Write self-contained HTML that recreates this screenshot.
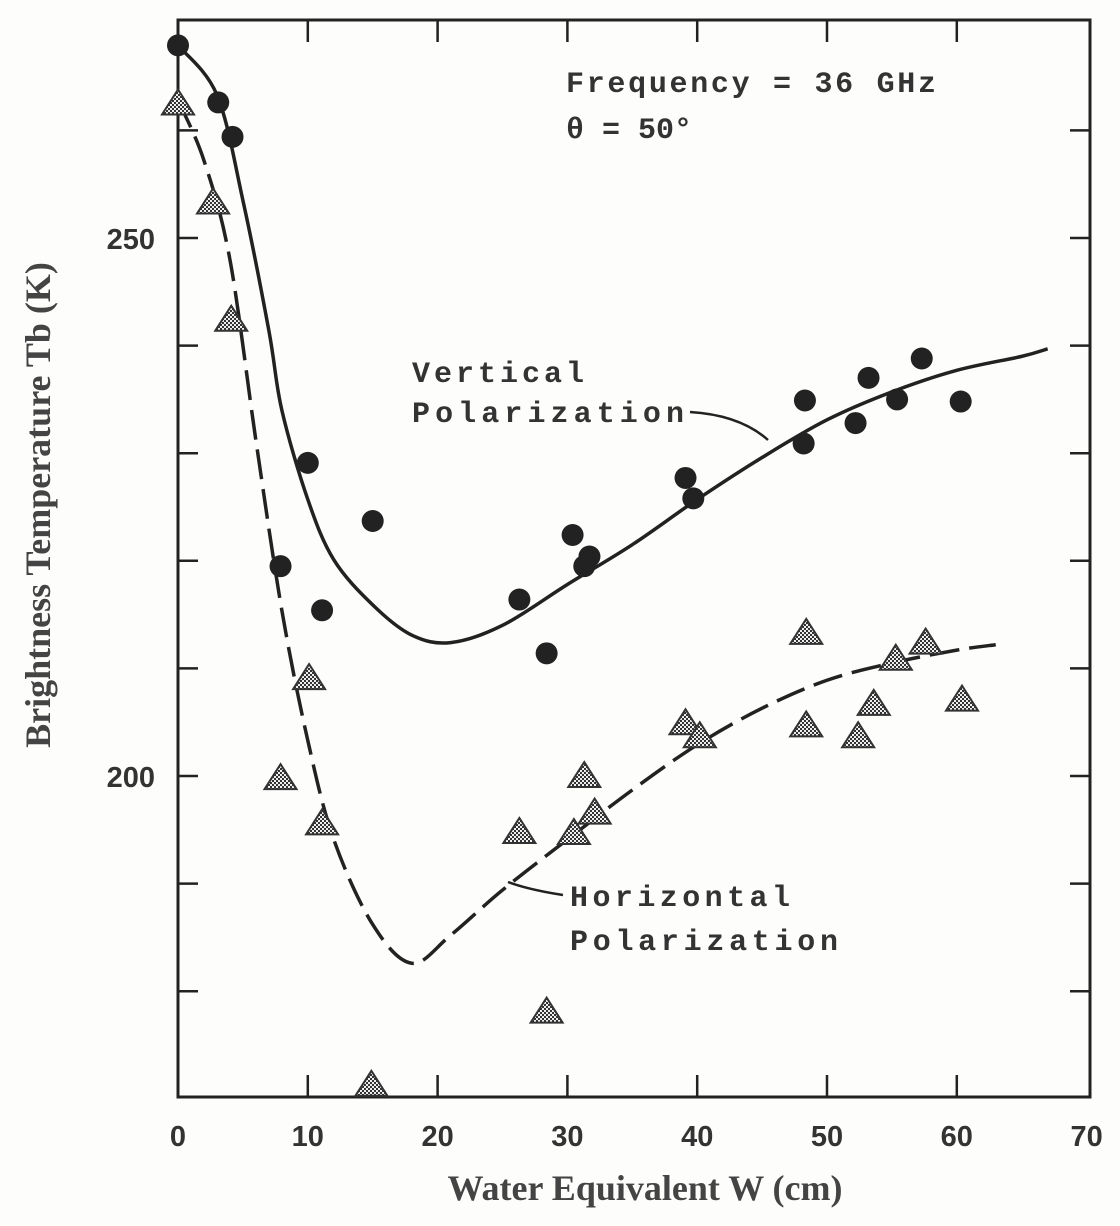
<!DOCTYPE html>
<html><head><meta charset="utf-8"><style>
html,body{margin:0;padding:0;background:#fdfdfb;}
svg{display:block;}
.tk{font-family:"Liberation Sans",sans-serif;font-weight:bold;font-size:29px;fill:#333;}
.ax{font-family:"Liberation Serif",serif;font-weight:bold;font-size:36px;fill:#444;}
.an{font-family:"Liberation Mono",monospace;font-weight:bold;font-size:30px;fill:#333;}
</style></head><body>
<svg id="chart" width="1120" height="1226" viewBox="0 0 1120 1226" xmlns="http://www.w3.org/2000/svg">
<defs>
<pattern id="hatch" width="4" height="4" patternUnits="userSpaceOnUse"><rect width="4" height="4" fill="#eee"/><rect width="2" height="2" fill="#333"/><rect x="2" y="2" width="2" height="2" fill="#333"/></pattern>
</defs>
<g id="frame"></g>
<g id="ticks"></g>
<g id="curves"></g>
<g id="points"></g>
<text class="ax" x="645" y="1200" text-anchor="middle">Water Equivalent W (cm)</text>
<text class="ax" transform="translate(50,505) rotate(-90)" text-anchor="middle">Brightness Temperature Tb (K)</text>
<text class="an" x="566" y="92" textLength="370">Frequency = 36 GHz</text>
<text class="an" x="566" y="138">θ = 50°</text>
<text class="an" x="412" y="382" textLength="172">Vertical</text>
<text class="an" x="412" y="422" textLength="272">Polarization</text>
<text class="an" x="570" y="906" textLength="220">Horizontal</text>
<text class="an" x="570" y="950" textLength="268">Polarization</text>
<path d="M690,412 Q740,415 768,440" fill="none" stroke="#222" stroke-width="2.5"/>
<path d="M563,895 Q530,890 508,882" fill="none" stroke="#222" stroke-width="2.5"/>
</svg>
<script>
const xTicks=[0,10,20,30,40,50,60,70];
const yTicks=[180,190,200,210,220,230,240,250,260];
const yLabels=[200,250];
const vCurveW=[0,3,5,7,8,10,12,15,18,21,25,30,35,40,45,50,55,60,65,67];
const vCurveT=[267.9,263.3,253.5,241.4,234.0,225.7,220.1,215.9,213.1,212.4,214.0,217.8,221.5,225.7,229.6,233.1,235.7,237.7,239.0,239.7];
const hCurveW=[0,2,4,6,8,10,12,15,18,21,25,30,35,40,45,50,55,60,63];
const hCurveT=[262.8,257.2,248.0,231.2,215.4,203.3,194.1,186.2,182.6,185.2,189.4,194.1,198.7,202.9,206.3,208.9,210.5,211.7,212.2];
const vW=[0,3.1,4.2,10,7.9,15,11.1,26.3,28.4,30.4,31.3,31.7,39.1,39.7,48.3,48.2,52.2,53.2,55.4,57.3,60.3];
const vT=[267.9,262.6,259.4,229.1,219.5,223.7,215.4,216.4,211.4,222.4,219.5,220.4,227.7,225.8,234.9,230.9,232.8,237.0,235.0,238.8,234.8];
const hW=[0,2.7,4.1,10.1,7.9,11.1,14.9,26.3,28.4,30.5,31.3,32.1,39.1,40.2,48.4,48.4,52.4,53.6,55.3,57.6,60.4];
const hT=[262.5,253.3,242.4,209.1,199.8,195.6,171.3,194.8,178.1,194.7,200,196.6,204.9,203.7,213.3,204.7,203.7,206.7,210.9,212.4,207.1];

const X0=178,XS=12.98,Y200=776,YS=10.76,TOP=20,BOT=1097,RIGHT=1090;
function sx(w){return X0+w*XS;}
function sy(t){return Y200-(t-200)*YS;}
const NS='http://www.w3.org/2000/svg';
function mk(tag,attrs,parent){const e=document.createElementNS(NS,tag);for(const k in attrs)e.setAttribute(k,attrs[k]);parent.appendChild(e);return e;}

const frame=document.getElementById('frame');
const fr=mk('rect',{x:X0,y:TOP,width:RIGHT-X0,height:BOT-TOP,fill:'none',stroke:'#222','stroke-width':3},frame);



const tk=document.getElementById('ticks');
xTicks.forEach(w=>{
  const x=sx(w);
  if(w>0&&w<70){
    const a=mk('line',{x1:x,x2:x,y1:BOT,y2:BOT-22,stroke:'#222','stroke-width':2.5},tk);
    
    
    const b=mk('line',{x1:x,x2:x,y1:TOP,y2:TOP+22,stroke:'#222','stroke-width':2.5},tk);
    
    
  }
  const t=mk('text',{x:x,y:1146,'text-anchor':'middle',class:'tk'},tk);
  t.textContent=w;
  
  
});
yTicks.forEach(v=>{
  const y=sy(v);
  if(y<TOP+10||y>BOT-10)return;
  const a=mk('line',{x1:X0,x2:X0+20,y1:y,y2:y,stroke:'#222','stroke-width':2.5},tk);
  
  
  const b=mk('line',{x1:RIGHT,x2:RIGHT-20,y1:y,y2:y,stroke:'#222','stroke-width':2.5},tk);
  
  
});
yLabels.forEach(v=>{
  const t=mk('text',{x:155,y:sy(v)+11,'text-anchor':'end',class:'tk'},tk);
  t.textContent=v;
  
  
});

function smoothPath(ws,ts){
  const p=ws.map((w,i)=>[sx(w),sy(ts[i])]);
  let d='M'+p[0][0]+','+p[0][1];
  for(let i=0;i<p.length-1;i++){
    const p0=p[Math.max(0,i-1)],p1=p[i],p2=p[i+1],p3=p[Math.min(p.length-1,i+2)];
    const c1=[p1[0]+(p2[0]-p0[0])/6,p1[1]+(p2[1]-p0[1])/6];
    const c2=[p2[0]-(p3[0]-p1[0])/6,p2[1]-(p3[1]-p1[1])/6];
    d+=' C'+c1+' '+c2+' '+p2;
  }
  return d;
}
const cv=document.getElementById('curves');
const vc=mk('path',{d:smoothPath(vCurveW,vCurveT),fill:'none',stroke:'#222','stroke-width':3.5},cv);


const hc=mk('path',{d:smoothPath(hCurveW,hCurveT),fill:'none',stroke:'#222','stroke-width':3.5,'stroke-dasharray':'30,10'},cv);



const pt=document.getElementById('points');
vW.forEach((w,i)=>{
  const c=mk('circle',{cx:sx(w),cy:sy(vT[i]),r:11,fill:'#222'},pt);
  
  
});
hW.forEach((w,i)=>{
  const x=sx(w),y=sy(hT[i]);
  const p=mk('polygon',{points:(x)+','+(y-14)+' '+(x-16)+','+(y+11)+' '+(x+16)+','+(y+11),fill:'url(#hatch)',stroke:'#333','stroke-width':2},pt);
  
  
});
</script>
</body></html>
